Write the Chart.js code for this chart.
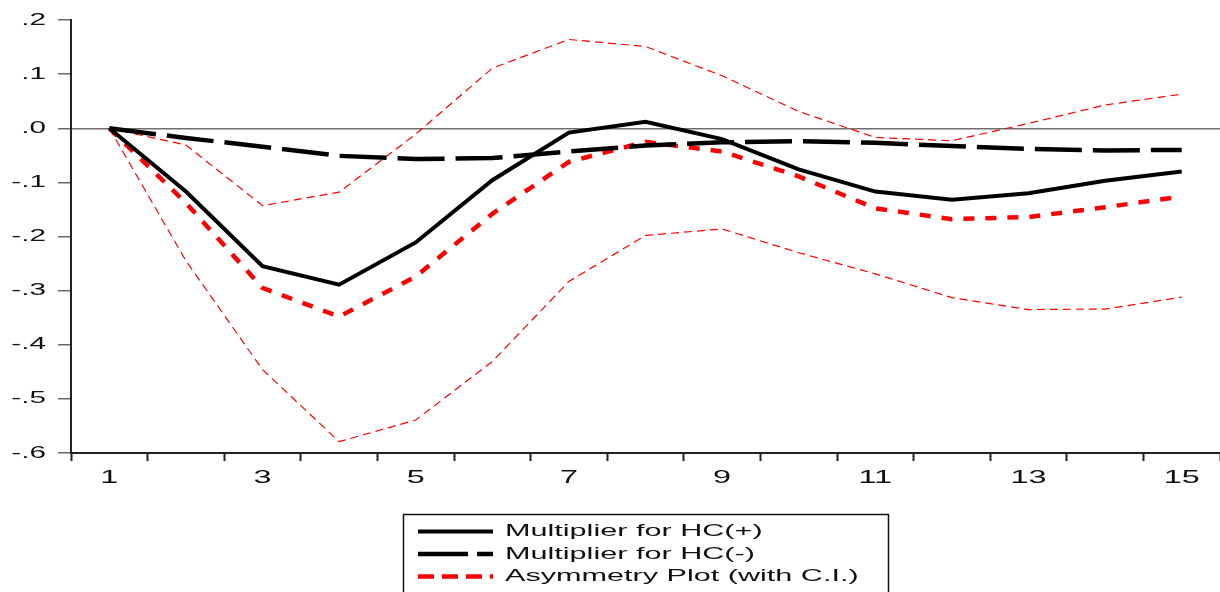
<!DOCTYPE html>
<html>
<head>
<meta charset="utf-8">
<script src="https://cdn.jsdelivr.net/npm/chart.js@4/dist/chart.umd.min.js"></script>
<style>
  html, body { margin: 0; padding: 0; background: #fff; }
  #wrap { width: 1220px; height: 592px; position: relative; }
</style>
</head>
<body>
<div id="wrap"><canvas id="multChart"></canvas></div>
<script>
// periods after the shock
var periods = [1, 2, 3, 4, 5, 6, 7, 8, 9, 10, 11, 12, 13, 14, 15];

// cumulative dynamic multipliers
var hcPos = [0, -0.117, -0.255, -0.289, -0.211, -0.096, -0.008, 0.012, -0.020, -0.076, -0.117, -0.132, -0.120, -0.097, -0.080];
var hcNeg = [0, -0.018, -0.034, -0.051, -0.057, -0.055, -0.043, -0.032, -0.026, -0.024, -0.027, -0.033, -0.038, -0.041, -0.040];
var asym  = [0, -0.138, -0.295, -0.348, -0.274, -0.158, -0.062, -0.025, -0.043, -0.089, -0.148, -0.168, -0.164, -0.146, -0.126];
var ciUpper = [0, -0.031, -0.143, -0.118, -0.011, 0.111, 0.164, 0.151, 0.097, 0.031, -0.017, -0.023, 0.009, 0.043, 0.063];
var ciLower = [0, -0.245, -0.446, -0.579, -0.539, -0.431, -0.283, -0.198, -0.186, -0.230, -0.269, -0.313, -0.335, -0.334, -0.312];

var yTicks = [0.2, 0.1, 0.0, -0.1, -0.2, -0.3, -0.4, -0.5, -0.6];

var legendItems = [
  { label: 'Multiplier for HC(+)', color: '#000', width: 4, dash: [] },
  { label: 'Multiplier for HC(-)', color: '#000', width: 4.5, dash: [50, 9] },
  { label: 'Asymmetry Plot (with C.I.)', color: '#ff0000', width: 4.5, dash: [16, 8] }
];

var SX = 1.8; // horizontal stretch for all text
var FONT = '"Liberation Sans", Arial, sans-serif';

function wideText(ctx, text, x, y, align) {
  ctx.save();
  ctx.translate(x, y);
  ctx.scale(SX, 1);
  ctx.textAlign = align;
  ctx.fillText(text, 0, 0);
  ctx.restore();
}

function fmt(v) {
  return v.toFixed(1).replace('0.', '.');
}

// draws tick labels and the boxed legend in wide lettering
var wideLabels = {
  id: 'wideLabels',
  afterDraw: function(chart) {
    var ctx = chart.ctx;
    var xs = chart.scales.x, ys = chart.scales.y;
    ctx.save();
    ctx.fillStyle = '#111';
    ctx.textBaseline = 'middle';
    ctx.font = '16.5px ' + FONT;
    yTicks.forEach(function(v) {
      wideText(ctx, fmt(v), 46, ys.getPixelForValue(v), 'right');
    });
    ctx.textBaseline = 'alphabetic';
    ctx.font = '18px ' + FONT;
    xs.ticks.forEach(function(t, i) {
      if (t.label) wideText(ctx, t.label, xs.getPixelForTick(i), 483, 'center');
    });

    // legend box
    var area = chart.chartArea;
    var cx = (area.left + area.right) / 2;
    var bx = Math.round(cx - 242.5), by = 514;
    ctx.strokeStyle = '#111';
    ctx.lineWidth = 1.5;
    ctx.strokeRect(bx + 0.5, by + 0.5, 485, 100);
    ctx.font = '17px ' + FONT;
    legendItems.forEach(function(it, i) {
      var yy = 531.5 + i * 22.5;
      ctx.beginPath();
      ctx.setLineDash(it.dash);
      ctx.strokeStyle = it.color;
      ctx.lineWidth = it.width;
      ctx.moveTo(bx + 15, yy);
      ctx.lineTo(bx + 90, yy);
      ctx.stroke();
      ctx.setLineDash([]);
      ctx.textBaseline = 'middle';
      wideText(ctx, it.label, bx + 102, yy, 'left');
    });
    ctx.restore();
  }
};

new Chart(document.getElementById('multChart'), {
  type: 'line',
  data: {
    labels: periods,
    datasets: [{
      label: 'Multiplier for HC(+)',
      data: hcPos,
      borderColor: '#000',
      borderWidth: 4,
      order: 0
    }, {
      label: 'Multiplier for HC(-)',
      data: hcNeg,
      borderColor: '#000',
      borderWidth: 4.5,
      borderDash: [47, 11],
      order: 1
    }, {
      label: 'Asymmetry Plot (with C.I.)',
      data: asym,
      borderColor: '#ff0000',
      borderWidth: 4.5,
      borderDash: [11, 11],
      order: 2
    }, {
      label: 'Upper bound',
      data: ciUpper,
      borderColor: '#ff0000',
      borderWidth: 1.2,
      borderDash: [8, 5],
      order: 3
    }, {
      label: 'Lower bound',
      data: ciLower,
      borderColor: '#ff0000',
      borderWidth: 1.2,
      borderDash: [8, 5],
      order: 4
    }]
  },
  options: {
    responsive: true,
    maintainAspectRatio: false,
    animation: false,
    layout: { padding: { top: 20, right: 0, bottom: 0, left: 0 } },
    elements: {
      point: { radius: 0, hoverRadius: 0 },
      line: { tension: 0, fill: false }
    },
    plugins: {
      legend: { display: false },
      tooltip: { enabled: false }
    },
    scales: {
      x: {
        offset: true,
        grid: {
          offset: true,
          color: 'rgba(0,0,0,0)',
          drawOnChartArea: false,
          tickLength: 8,
          tickColor: '#222',
          tickWidth: 2
        },
        border: { color: '#222', width: 2 },
        ticks: {
          autoSkip: false,
          maxRotation: 0,
          color: 'rgba(0,0,0,0)',
          callback: function(v, i) { return i % 2 === 0 ? String(periods[i]) : ''; }
        },
        afterFit: function(s) { s.height = 139; }
      },
      y: {
        min: -0.6,
        max: 0.2,
        grid: {
          color: function(c) { return c.tick && Math.abs(c.tick.value) < 1e-9 ? '#6e6e6e' : 'rgba(0,0,0,0)'; },
          lineWidth: 1.5,
          tickLength: 13,
          tickColor: '#666',
          tickWidth: 1.5
        },
        border: { color: '#222', width: 2 },
        ticks: {
          stepSize: 0.1,
          color: 'rgba(0,0,0,0)',
          callback: function(v) { return fmt(v); }
        },
        afterFit: function(s) { s.width = 71; }
      }
    }
  },
  plugins: [wideLabels]
});
</script>
</body>
</html>
